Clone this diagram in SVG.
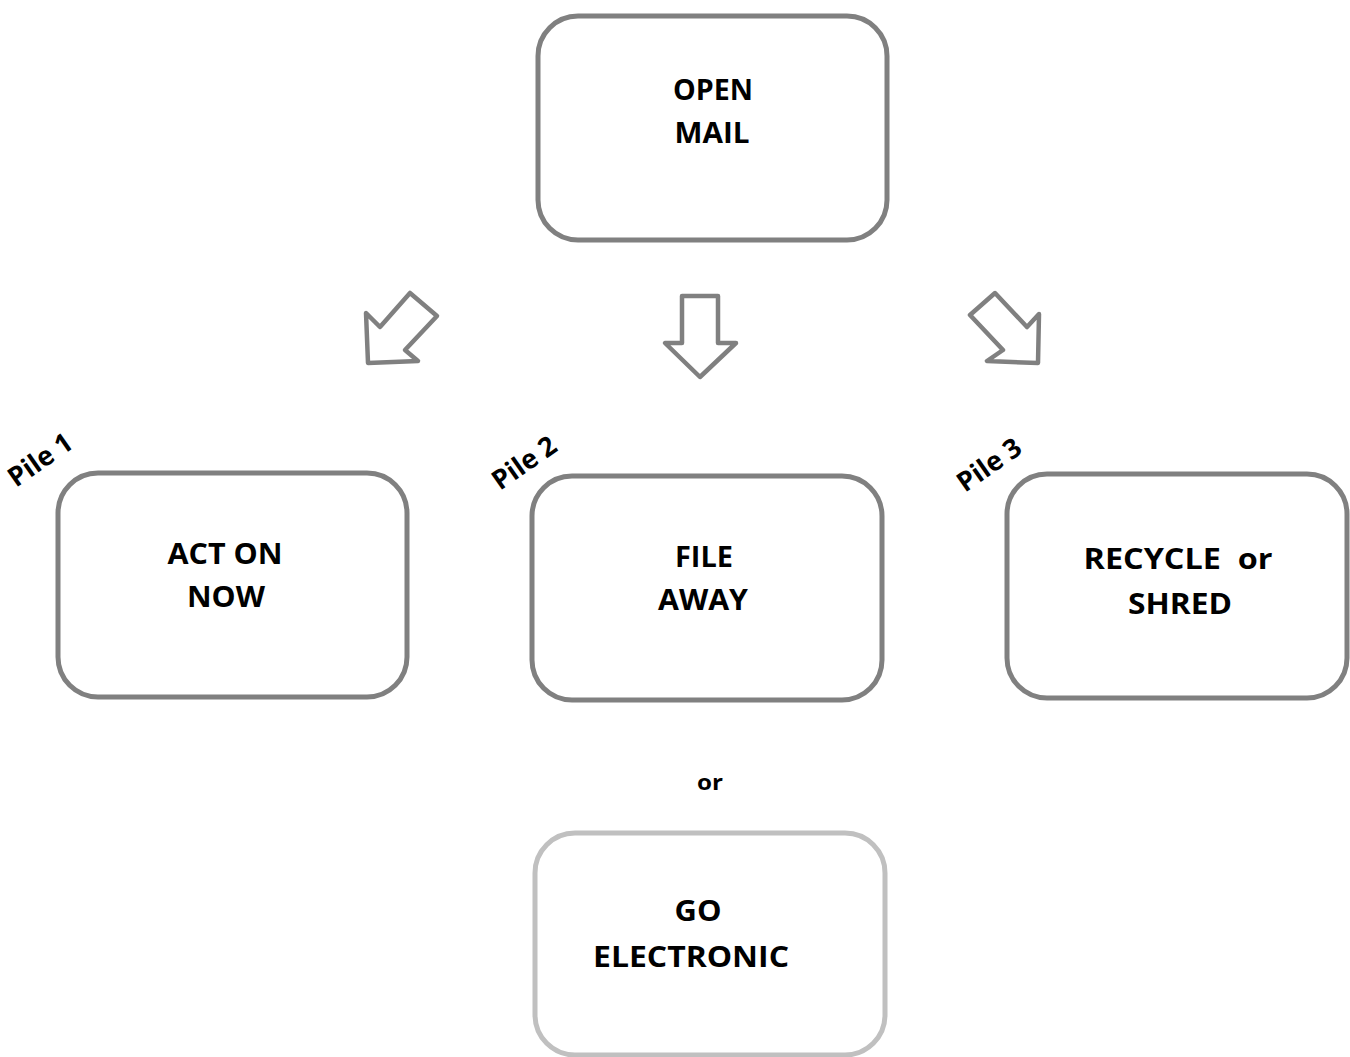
<svg xmlns="http://www.w3.org/2000/svg" width="1350" height="1057" viewBox="0 0 1350 1057">
<style>
.box{fill:#fff;stroke:#808080;stroke-width:5}
.light{stroke:#c0c0c0}
.t{font-family:"Open Sans","Liberation Sans",sans-serif;font-weight:bold;font-size:29px;fill:#000;text-anchor:middle}
.pile{font-family:"Open Sans","Liberation Sans",sans-serif;font-weight:bold;font-size:27px;fill:#000}
.arrow{fill:#fff;stroke:#808080;stroke-width:4.5;stroke-linejoin:round}
</style>
<rect width="1350" height="1057" fill="#fff"/>
<g id="open-mail">
<rect class="box" x="538" y="16" width="349" height="224" rx="40"/>
<text class="t" x="713" y="100" textLength="80" lengthAdjust="spacingAndGlyphs">OPEN</text>
<text class="t" x="712" y="143" textLength="75" lengthAdjust="spacingAndGlyphs">MAIL</text>
</g>
<g id="act-on-now">
<rect class="box" x="58" y="473" width="349" height="224" rx="40"/>
<text class="t" x="225" y="564" textLength="115" lengthAdjust="spacingAndGlyphs">ACT ON</text>
<text class="t" x="226" y="607" textLength="78" lengthAdjust="spacingAndGlyphs">NOW</text>
<text class="pile" transform="translate(16,488) rotate(-35)">Pile 1</text>
</g>
<g id="file-away">
<rect class="box" x="532" y="476" width="350" height="224" rx="40"/>
<text class="t" x="704" y="567" textLength="58" lengthAdjust="spacingAndGlyphs">FILE</text>
<text class="t" x="703" y="610" textLength="90" lengthAdjust="spacingAndGlyphs">AWAY</text>
<text class="pile" transform="translate(500,491) rotate(-35)">Pile 2</text>
</g>
<g id="recycle-shred">
<rect class="box" x="1007" y="474" width="340" height="224" rx="40"/>
<text class="t" x="1178" y="569" textLength="189" lengthAdjust="spacingAndGlyphs" xml:space="preserve">RECYCLE  or</text>
<text class="t" x="1180" y="614" textLength="104" lengthAdjust="spacingAndGlyphs">SHRED</text>
<text class="pile" transform="translate(965,493) rotate(-35)">Pile 3</text>
</g>
<g id="or-label">
<text class="t" x="710" y="790" style="font-size:22px" textLength="26" lengthAdjust="spacingAndGlyphs">or</text>
</g>
<g id="go-electronic">
<rect class="box light" x="535" y="833" width="350" height="222" rx="40"/>
<text class="t" x="698" y="921" textLength="47" lengthAdjust="spacingAndGlyphs">GO</text>
<text class="t" x="691" y="967" textLength="196" lengthAdjust="spacingAndGlyphs">ELECTRONIC</text>
</g>
<g id="connectors">
<polygon class="arrow" points="368,363 366,313 380,327 410,293 437,316 405,350 418,361"/>
<polygon class="arrow" points="682,296 718,296 718,343 736,343 700,377 665,343 682,343"/>
<polygon class="arrow" points="995,293 970,315 1003,350 987,361 1038,363 1039,314 1027,327"/>
</g>
</svg>
